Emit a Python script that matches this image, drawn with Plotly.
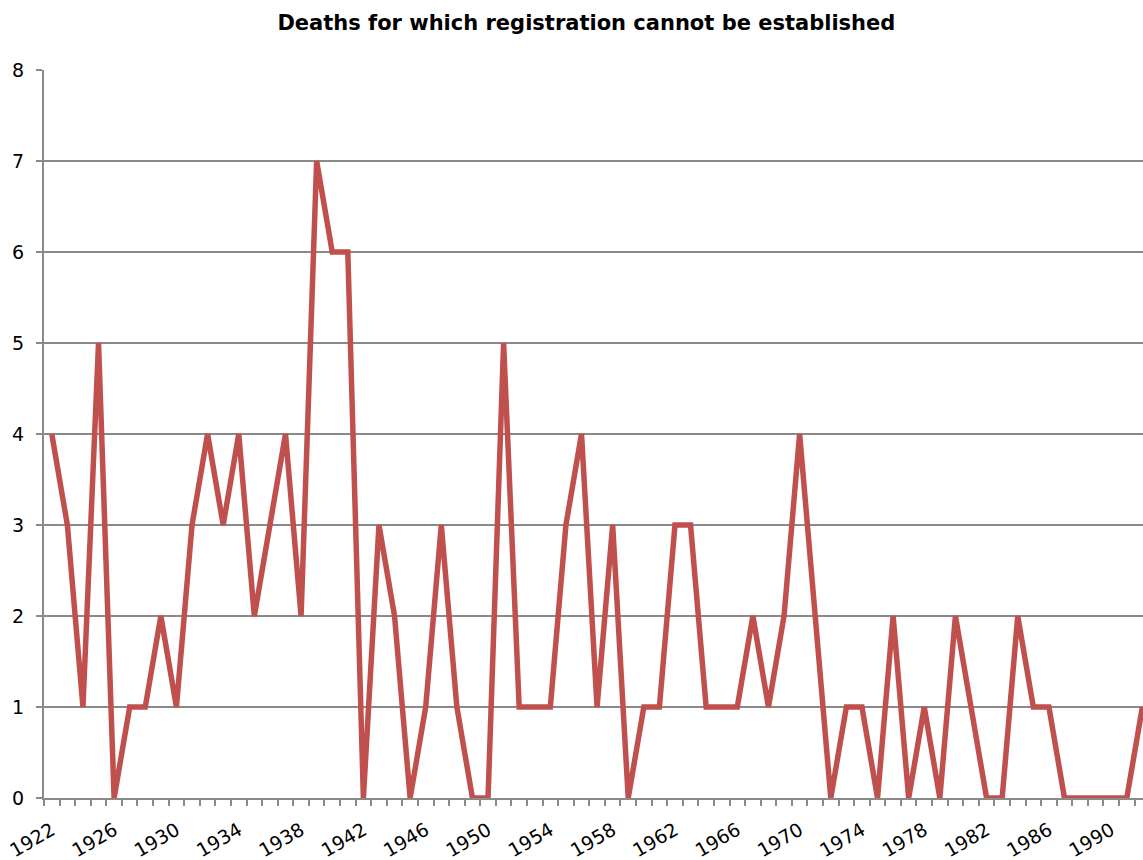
import plotly.graph_objects as go

years = list(range(1922, 1993))
deaths = [4, 3, 1, 5, 0, 1, 1, 2, 1, 3,
          4, 3, 4, 2, 3, 4, 2, 7, 6, 6,
          0, 3, 2, 0, 1, 3, 1, 0, 0, 5,
          1, 1, 1, 3, 4, 1, 3, 0, 1, 1,
          3, 3, 1, 1, 1, 2, 1, 2, 4, 2,
          0, 1, 1, 0, 2, 0, 1, 0, 2, 1,
          0, 0, 2, 1, 1, 0, 0, 0, 0, 0,
          1]
label_years = list(range(1922, 1993, 4))
y_ticks = list(range(0, 9))

title_text = "Deaths for which registration cannot be established"
axis_grey = "#8a8a8a"
font_family = "DejaVu Sans, Liberation Sans, Arial, sans-serif"

fig = go.Figure()
fig.add_trace(go.Scatter(
    x=years, y=deaths, mode="lines",
    line=dict(color="#C0504D", width=5.5),
    hoverinfo="x+y", showlegend=False,
))

fig.update_layout(
    width=1143, height=860,
    margin=dict(l=44, r=0, t=70, b=62),
    paper_bgcolor="white", plot_bgcolor="white",
    font=dict(family=font_family, size=19, color="black"),
    title=dict(text="<b>" + title_text + "</b>", x=0.513, xanchor="center",
               y=0.974, yanchor="middle",
               font=dict(size=21, family=font_family)),
)

fig.update_xaxes(
    range=[1921.5, 1992.04], automargin=False,
    tickmode="array", tickvals=label_years, ticktext=[str(v) for v in label_years],
    tickangle=-30, ticks="", ticklabelstandoff=12,
    showgrid=False, zeroline=False,
    showline=True, linecolor=axis_grey, linewidth=2,
    minor=dict(tick0=1921.5, dtick=1, ticks="outside", ticklen=6,
               tickcolor=axis_grey, tickwidth=2, showgrid=False),
)
fig.update_yaxes(
    range=[0, 8], automargin=False, tickmode="array", tickvals=y_ticks,
    ticks="outside", ticklen=6, tickcolor=axis_grey, tickwidth=2,
    ticklabelstandoff=8,
    showgrid=True, gridcolor=axis_grey, gridwidth=2,
    zeroline=False, showline=True, linecolor=axis_grey, linewidth=2,
)

fig.write_html("out.html")
